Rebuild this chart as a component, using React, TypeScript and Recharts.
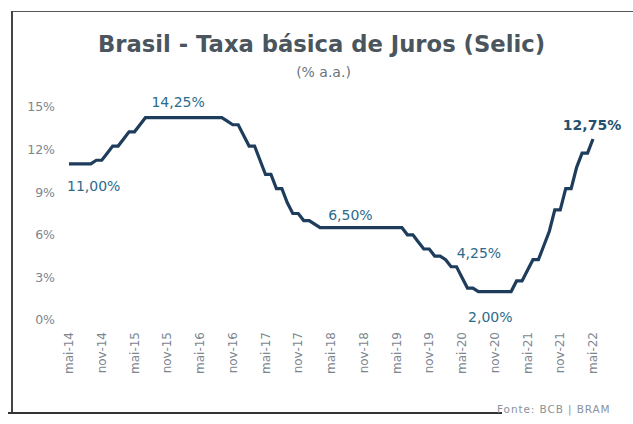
import React from "react"
import { LineChart, Line, XAxis, YAxis, LabelList } from "recharts"

// Selic target rate, end of month, mai-14 .. mai-22
const selic2014 = [11, 11, 11, 11, 11, 11.25, 11.25, 11.75]
const selic2015 = [12.25, 12.25, 12.75, 13.25, 13.25, 13.75, 14.25, 14.25, 14.25, 14.25, 14.25, 14.25]
const selic2016 = [14.25, 14.25, 14.25, 14.25, 14.25, 14.25, 14.25, 14.25, 14.25, 14.0, 13.75, 13.75]
const selic2017 = [13.0, 12.25, 12.25, 11.25, 10.25, 10.25, 9.25, 9.25, 8.25, 7.5, 7.5, 7.0]
const selic2018 = [7.0, 6.75, 6.5, 6.5, 6.5, 6.5, 6.5, 6.5, 6.5, 6.5, 6.5, 6.5]
const selic2019 = [6.5, 6.5, 6.5, 6.5, 6.5, 6.5, 6.0, 6.0, 5.5, 5.0, 5.0, 4.5]
const selic2020 = [4.5, 4.25, 3.75, 3.75, 3.0, 2.25, 2.25, 2.0, 2.0, 2.0, 2.0, 2.0]
const selic2021 = [2.0, 2.0, 2.75, 2.75, 3.5, 4.25, 4.25, 5.25, 6.25, 7.75, 7.75, 9.25]
const selic2022 = [9.25, 10.75, 11.75, 11.75, 12.75]

const tickLabels = [
  "mai-14", "nov-14", "mai-15", "nov-15", "mai-16", "nov-16", "mai-17", "nov-17",
  "mai-18", "nov-18", "mai-19", "nov-19", "mai-20", "nov-20", "mai-21", "nov-21", "mai-22",
]
const yTicks = [0, 3, 6, 9, 12, 15]

// month index (from mai-14) -> label text
const annotations = [
  { m: 0, text: "11,00%" },
  { m: 14, text: "14,25%" },
  { m: 51, text: "6,50%" },
  { m: 69, text: "4,25%" },
  { m: 77, text: "2,00%" },
  { m: 96, text: "12,75%" },
]

const values = [
  ...selic2014, ...selic2015, ...selic2016, ...selic2017, ...selic2018,
  ...selic2019, ...selic2020, ...selic2021, ...selic2022,
]
const data = values.map((v, m) => ({
  m,
  v,
  note: annotations.find((a) => a.m === m)?.text,
}))
const xTicks = tickLabels.map((_, i) => i * 6)

const FONT = "'DejaVu Sans', sans-serif"
const LINE = "#1e3d5c"
const NOTE = "#2c6b8c"
const GRAY = "#7c868f"

const notePlace: Record<string, { anchor: string; dx: number; dy: number; bold?: boolean }> = {
  "11,00%": { anchor: "start", dx: -2, dy: 22 },
  "14,25%": { anchor: "start", dx: 6, dy: -16 },
  "6,50%": { anchor: "middle", dx: 3, dy: -13 },
  "4,25%": { anchor: "start", dx: 11, dy: -7 },
  "2,00%": { anchor: "middle", dx: 1, dy: 25 },
  "12,75%": { anchor: "middle", dx: -1, dy: -14, bold: true },
}

const renderNote = (props: any) => {
  const { x, y, value } = props
  if (!value) return null
  const p = notePlace[value]
  return (
    <text
      x={x + p.dx}
      y={y + p.dy}
      textAnchor={p.anchor as any}
      dominantBaseline="central"
      fontFamily={FONT}
      fontSize={14}
      fontWeight={p.bold ? 700 : 400}
      fill={p.bold ? "#24506e" : NOTE}
    >
      {value}
    </text>
  )
}

const XTick = (props: any) => {
  const { x, y, payload } = props
  const label = tickLabels[payload.value / 6]
  return (
    <text
      x={x}
      y={y}
      transform={`rotate(-90, ${x}, ${y})`}
      textAnchor="end"
      dominantBaseline="central"
      fontFamily={FONT}
      fontSize={12}
      fill={GRAY}
    >
      {label}
    </text>
  )
}

export default function App() {
  return (
    <div
      style={{
        position: "absolute",
        left: 0,
        top: 0,
        width: 633,
        height: 424,
        background: "#fff",
        overflow: "hidden",
      }}
    >
      {/* frame */}
      <div style={{ position: "absolute", left: 12, top: 11, width: 640, height: 1, background: "#555" }} />
      <div style={{ position: "absolute", left: 11, top: 11, width: 2, height: 402, background: "#444" }} />
      <div style={{ position: "absolute", left: 8, top: 412, width: 494, height: 2, background: "#333" }} />

      <div
        style={{
          position: "absolute",
          left: 0,
          top: 31,
          width: 643,
          textAlign: "center",
          fontFamily: FONT,
          fontWeight: 700,
          fontSize: 22.7,
          color: "#4a555d",
        }}
      >
        Brasil - Taxa básica de Juros (Selic)
      </div>
      <div
        style={{
          position: "absolute",
          left: 0,
          top: 64,
          width: 647,
          textAlign: "center",
          fontFamily: FONT,
          fontSize: 14,
          color: "#6b757d",
        }}
      >
        (% a.a.)
      </div>
      <div
        style={{
          position: "absolute",
          left: 497,
          top: 403,
          fontFamily: FONT,
          fontSize: 10.5,
          letterSpacing: 0.9,
          color: "#8a939a",
        }}
      >
        Fonte: BCB | BRAM
      </div>

      <div style={{ position: "absolute", left: 0, top: 0 }}>
        <LineChart
          width={633}
          height={424}
          data={data}
          margin={{ top: 107, right: 40, bottom: 0, left: 19 }}
        >
          <XAxis
            dataKey="m"
            type="number"
            domain={[0, 96]}
            ticks={xTicks}
            interval={0}
            tick={<XTick />}
            tickLine={false}
            axisLine={false}
            tickMargin={6}
            height={104}
          />
          <YAxis
            domain={[0, 15]}
            ticks={yTicks}
            tickFormatter={(v: number) => `${v}%`}
            tick={{ fontFamily: FONT, fontSize: 12.5, fill: GRAY }}
            tickLine={false}
            axisLine={false}
            tickMargin={8}
            width={50}
          />
          <Line
            type="linear"
            dataKey="v"
            stroke={LINE}
            strokeWidth={3.2}
            dot={false}
            isAnimationActive={false}
          >
            <LabelList dataKey="note" content={renderNote} />
          </Line>
        </LineChart>
      </div>
    </div>
  )
}
